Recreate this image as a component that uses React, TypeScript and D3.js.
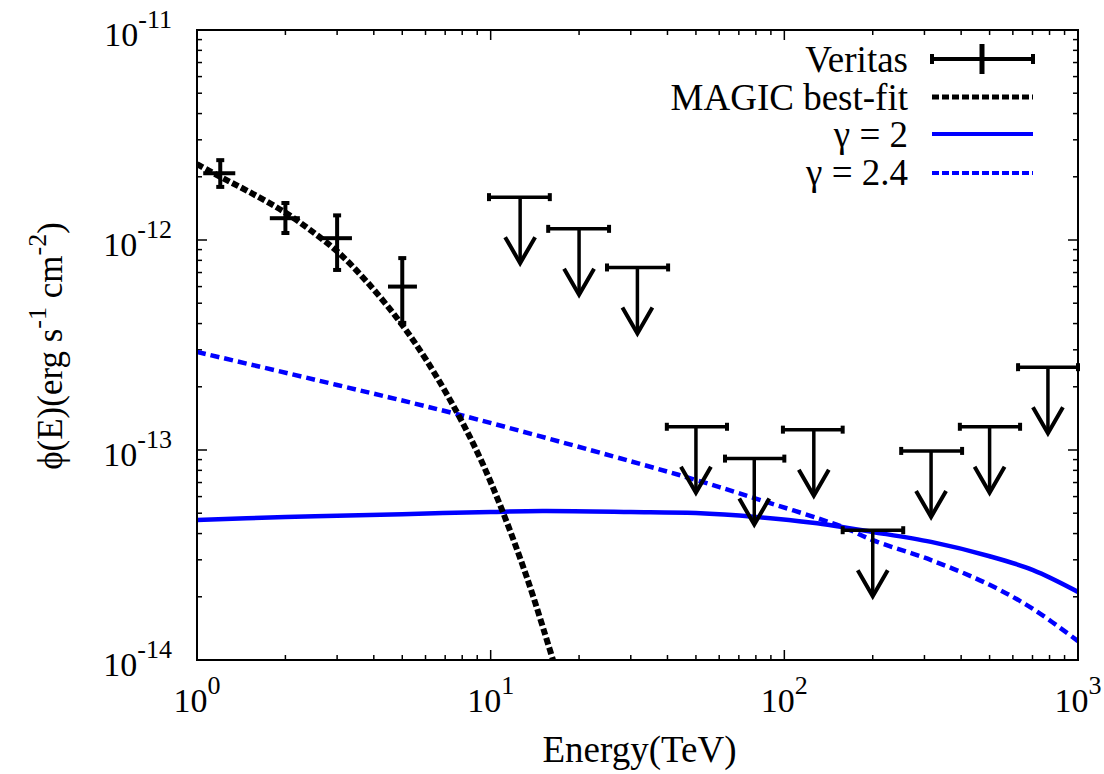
import React from "react";
import * as d3 from "d3";

// ---------- data ----------
const veritasE = [1.2, 2, 3, 5];
const veritasF = [2.08e-12, 1.27e-12, 1.02e-12, 6.0e-13];
const veritasFLow = [1.79e-12, 1.08e-12, 7.2e-13, 4.03e-13];
const veritasFHigh = [2.4e-12, 1.5e-12, 1.31e-12, 8.2e-13];
const veritasELow = [1.05, 1.77, 2.66, 4.47];
const veritasEHigh = [1.35, 2.24, 3.37, 5.61];

const ulE = [12.6, 20, 31.6, 50, 79, 126, 200, 316, 500, 790];
const ulF = [1.6e-12, 1.13e-12, 7.4e-13, 1.29e-13, 9.1e-14, 1.25e-13, 4.15e-14, 9.9e-14, 1.29e-13, 2.48e-13];
const ulELow = [9.87, 15.7, 24.9, 39.8, 62.8, 98.9, 158, 250, 396, 625];
const ulEHigh = [15.9, 25.3, 40.2, 63.8, 100, 158, 254, 403, 635, 1000];

const magicE = [1, 1.2, 1.5, 2, 2.42, 3, 3.78, 4.91, 6.06, 7.72, 9.2, 10.9, 13.3, 15.9, 16.6];
const magicF = [2.3e-12, 2.0e-12, 1.7e-12, 1.35e-12, 1.12e-12, 8.83e-13, 6.35e-13, 4.07e-13, 2.66e-13, 1.49e-13, 9.16e-14, 5.24e-14, 2.46e-14, 1.12e-14, 9.2e-15];

const gamma2E = [1, 2, 3, 5, 10, 15, 30, 50, 80, 125, 200, 316, 500, 703, 1000];
const gamma2F = [4.64e-14, 4.8e-14, 4.86e-14, 4.95e-14, 5.07e-14, 5.12e-14, 5.07e-14, 5.01e-14, 4.8e-14, 4.5e-14, 4.07e-14, 3.65e-14, 3.12e-14, 2.68e-14, 2.11e-14];

const gamma24E = [1, 3, 7.7, 29.7, 50, 79, 158, 200, 316, 500, 703, 1000];
const gamma24F = [2.93e-13, 2.04e-13, 1.48e-13, 8.87e-14, 7.2e-14, 5.9e-14, 4.3e-14, 3.72e-14, 2.99e-14, 2.28e-14, 1.75e-14, 1.23e-14];

const xMajor = [1, 10, 100, 1000];
const xMajorExp = ["0", "1", "2", "3"];
const yMajor = [1e-14, 1e-13, 1e-12, 1e-11];
const yMajorExp = ["-14", "-13", "-12", "-11"];

const legendLabels = ["Veritas", "MAGIC best-fit", "\u03b3 = 2", "\u03b3 = 2.4"];

// ---------- layout ----------
const W = 1104, H = 774;
const L = 197, R = 1078, T = 30, B = 660;
const FONT =
  '"Liberation Serif", Tinos, "Times New Roman", Times, "Nimbus Roman", "Nimbus Roman No9 L", "TeX Gyre Termes", FreeSerif, "Noto Serif", "DejaVu Serif", serif';
const BLUE = "#0000ff";

export default function App() {
  const x = d3.scaleLog().domain([1, 1000]).range([L, R]);
  const y = d3.scaleLog().domain([1e-14, 1e-11]).range([B, T]);

  const line = d3
    .line<[number, number]>()
    .x((d) => x(d[0]))
    .y((d) => y(d[1]))
    .curve(d3.curveCatmullRom.alpha(0.5));

  const zip = (a: number[], b: number[]) => a.map((v, i) => [v, b[i]] as [number, number]);

  const xMinor: number[] = [];
  for (const dec of [1, 10, 100]) for (let k = 2; k <= 9; k++) xMinor.push(dec * k);
  const yMinor: number[] = [];
  for (const dec of [1e-14, 1e-13, 1e-12]) for (let k = 2; k <= 9; k++) yMinor.push(dec * k);

  const arrowLen = 66;
  const txt = { fontFamily: FONT, fill: "#000" } as React.CSSProperties;

  return (
    <svg
      width={W}
      height={H}
      style={{ position: "absolute", left: 0, top: 0, background: "#fff", fontFamily: FONT }}
    >
      <defs>
        <clipPath id="plotclip">
          <rect x={L} y={T} width={R - L} height={B - T} />
        </clipPath>
      </defs>

      {/* ticks */}
      <g stroke="#000" strokeWidth={1.5}>
        {xMajor.map((v, i) => (
          <g key={"xM" + i}>
            <line x1={x(v)} x2={x(v)} y1={B} y2={B - 10} />
            <line x1={x(v)} x2={x(v)} y1={T} y2={T + 10} />
          </g>
        ))}
        {xMinor.map((v, i) => (
          <g key={"xm" + i}>
            <line x1={x(v)} x2={x(v)} y1={B} y2={B - 5} />
            <line x1={x(v)} x2={x(v)} y1={T} y2={T + 5} />
          </g>
        ))}
        {yMajor.map((v, i) => (
          <g key={"yM" + i}>
            <line x1={L} x2={L + 10} y1={y(v)} y2={y(v)} />
            <line x1={R} x2={R - 10} y1={y(v)} y2={y(v)} />
          </g>
        ))}
        {yMinor.map((v, i) => (
          <g key={"ym" + i}>
            <line x1={L} x2={L + 5} y1={y(v)} y2={y(v)} />
            <line x1={R} x2={R - 5} y1={y(v)} y2={y(v)} />
          </g>
        ))}
      </g>

      {/* tick labels */}
      {xMajor.map((v, i) => (
        <text key={"xl" + i} x={x(v)} y={712} textAnchor="middle" fontSize={34} style={txt}>
          <tspan>10</tspan>
          <tspan dy={-18} fontSize={26}>{xMajorExp[i]}</tspan>
        </text>
      ))}
      {yMajor.map((v, i) => (
        <text key={"yl" + i} x={172} y={y(v) + 16} textAnchor="end" fontSize={34} style={txt}>
          <tspan>10</tspan>
          <tspan dy={-18} fontSize={26}>{yMajorExp[i]}</tspan>
        </text>
      ))}

      {/* axis titles */}
      <text x={(L + R) / 2 + 2} y={762} textAnchor="middle" fontSize={37} style={txt}>
        Energy(TeV)
      </text>
      <text transform={`translate(62,346) rotate(-90)`} textAnchor="middle" fontSize={35} style={txt}>
        <tspan>{"\u03d5(E)(erg s"}</tspan>
        <tspan dy={-16} fontSize={26}>-1</tspan>
        <tspan dy={16}>{" cm"}</tspan>
        <tspan dy={-16} fontSize={26}>-2</tspan>
        <tspan dy={16}>)</tspan>
      </text>

      {/* curves */}
      <g clipPath="url(#plotclip)" fill="none">
        <path d={line(zip(gamma2E, gamma2F)) || ""} stroke={BLUE} strokeWidth={4.5} />
        <path d={line(zip(gamma24E, gamma24F)) || ""} stroke={BLUE} strokeWidth={4.5} strokeDasharray="9,5" />
        <path d={line(zip(magicE, magicF)) || ""} stroke="#000" strokeWidth={6} strokeDasharray="7,3" />
      </g>

      {/* Veritas points */}
      <g stroke="#000" strokeWidth={4} fill="none">
        {veritasE.map((e, i) => (
          <g key={"v" + i}>
            <line x1={x(veritasELow[i])} x2={x(veritasEHigh[i])} y1={y(veritasF[i])} y2={y(veritasF[i])} />
            <line x1={x(e)} x2={x(e)} y1={y(veritasFLow[i])} y2={y(veritasFHigh[i])} />
            <line x1={x(e) - 4} x2={x(e) + 4} y1={y(veritasFLow[i])} y2={y(veritasFLow[i])} />
            <line x1={x(e) - 4} x2={x(e) + 4} y1={y(veritasFHigh[i])} y2={y(veritasFHigh[i])} />
          </g>
        ))}
      </g>

      {/* upper limits */}
      <g stroke="#000" fill="none">
        {ulE.map((e, i) => {
          const cx = x(e);
          const cy = y(ulF[i]);
          const tip = cy + arrowLen;
          return (
            <g key={"ul" + i}>
              <line x1={x(ulELow[i])} x2={x(ulEHigh[i])} y1={cy} y2={cy} strokeWidth={3.5} />
              <line x1={x(ulELow[i])} x2={x(ulELow[i])} y1={cy - 4} y2={cy + 4} strokeWidth={4} />
              <line x1={x(ulEHigh[i])} x2={x(ulEHigh[i])} y1={cy - 4} y2={cy + 4} strokeWidth={4} />
              <line x1={cx} x2={cx} y1={cy} y2={tip - 2} strokeWidth={3.5} />
              <polyline
                points={`${cx - 15},${tip - 26} ${cx},${tip} ${cx + 15},${tip - 26}`}
                strokeWidth={4}
              />
            </g>
          );
        })}
      </g>

      {/* frame */}
      <rect x={L} y={T} width={R - L} height={B - T} fill="none" stroke="#000" strokeWidth={2} />

      {/* legend */}
      <g>
        {legendLabels.map((lab, i) => (
          <text key={"lg" + i} x={908} y={[72, 110, 147, 185][i]} textAnchor="end" fontSize={37} style={txt}>
            {lab}
          </text>
        ))}
        <g stroke="#000" strokeWidth={4}>
          <line x1={932} x2={1033} y1={59} y2={59} />
          <line x1={932} x2={932} y1={54} y2={64} />
          <line x1={1033} x2={1033} y1={54} y2={64} />
          <line x1={982} x2={982} y1={44} y2={74} strokeWidth={5} />
        </g>
        <line x1={932} x2={1033} y1={97} y2={97} stroke="#000" strokeWidth={5} strokeDasharray="7,3" />
        <line x1={932} x2={1033} y1={134} y2={134} stroke={BLUE} strokeWidth={4} />
        <line x1={932} x2={1033} y1={173} y2={173} stroke={BLUE} strokeWidth={4} strokeDasharray="7,3" />
      </g>
    </svg>
  );
}
